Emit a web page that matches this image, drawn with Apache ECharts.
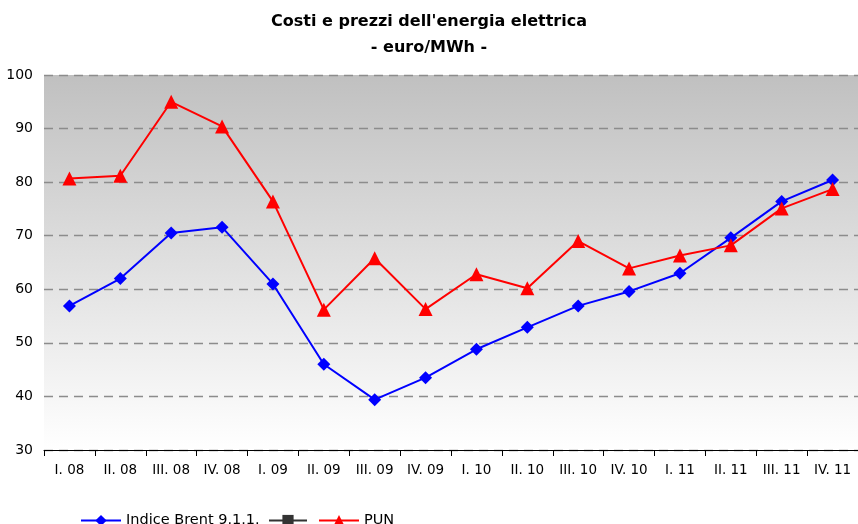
<!DOCTYPE html>
<html><head><meta charset="utf-8">
<script src="https://cdn.jsdelivr.net/npm/echarts@6/dist/echarts.min.js"></script>
<style>html,body{margin:0;padding:0;background:#fff}#c{width:858px;height:524px}</style>
</head><body><div id="c"></div>
<script>
const categories = ['I. 08','II. 08','III. 08','IV. 08','I. 09','II. 09','III. 09','IV. 09','I. 10','II. 10','III. 10','IV. 10','I. 11','II. 11','III. 11','IV. 11'];
const brent = [56.9, 62.0, 70.5, 71.6, 61.0, 46.0, 39.4, 43.5, 48.8, 52.9, 56.9, 59.6, 63.0, 69.6, 76.4, 80.4];
const pun = [80.7, 81.2, 95.0, 90.4, 76.4, 56.2, 65.8, 56.3, 62.8, 60.2, 69.0, 63.9, 66.3, 68.2, 75.1, 78.7];
const empty = categories.map(() => null);
const yTicks = [30, 40, 50, 60, 70, 80, 90, 100];
const seriesNames = ['Indice Brent 9.1.1.', ' ', 'PUN'];
const FONT = 'DejaVu Sans';

const legendBase = {top: 508, itemWidth: 40, itemHeight: 14, itemGap: 4,
  textStyle: {fontFamily: FONT, fontSize: 14.5, color: '#000'}};

const chart = echarts.init(document.getElementById('c'), null, {renderer: 'canvas'});
chart.setOption({
  animation: false,
  backgroundColor: '#ffffff',
  textStyle: {fontFamily: FONT},
  title: {
    text: "Costi e prezzi dell'energia elettrica\n- euro/MWh -",
    left: 'center', top: 4,
    textStyle: {fontFamily: FONT, fontSize: 16, fontWeight: 'bold', color: '#000', lineHeight: 26}
  },
  grid: {
    left: 44, right: 0, top: 75, bottom: 74, show: true, borderWidth: 0,
    backgroundColor: new echarts.graphic.LinearGradient(0, 0, 0, 1, [
      {offset: 0, color: '#c0c0c0'},
      {offset: 1, color: '#ffffff'}
    ])
  },
  legend: [
    Object.assign({}, legendBase, {left: 75, data: [seriesNames[0]]}),
    Object.assign({}, legendBase, {left: 263, itemWidth: 38, data: [seriesNames[1]]}),
    Object.assign({}, legendBase, {left: 313, data: [seriesNames[2]]})
  ],
  xAxis: {
    type: 'category', data: categories, boundaryGap: true,
    axisLine: {lineStyle: {color: '#000', width: 1}},
    axisTick: {show: true, length: 6, inside: false, lineStyle: {color: '#000'}},
    axisLabel: {fontFamily: FONT, fontSize: 13.5, color: '#000', margin: 13}
  },
  yAxis: {
    type: 'value', min: 30, max: 100, interval: 10,
    axisLine: {show: false}, axisTick: {show: false},
    axisLabel: {fontFamily: FONT, fontSize: 14, color: '#000', margin: 11,
      formatter: v => yTicks.includes(v) ? String(v) : ''},
    splitLine: {show: true, lineStyle: {color: '#8c8c8c', type: [9, 6], width: 1.3}}
  },
  series: [
    {name: seriesNames[0], type: 'line', data: brent, symbol: 'diamond', symbolSize: 13,
      itemStyle: {color: '#0000ff'}, lineStyle: {color: '#0000ff', width: 2}},
    {name: seriesNames[1], type: 'line', data: empty, symbol: 'rect', symbolSize: 10,
      itemStyle: {color: '#333333'}, lineStyle: {color: '#333333', width: 2}},
    {name: seriesNames[2], type: 'line', data: pun, symbol: 'triangle', symbolSize: 14,
      itemStyle: {color: '#ff0000'}, lineStyle: {color: '#ff0000', width: 2}, z: 3}
  ]
});
</script></body></html>
